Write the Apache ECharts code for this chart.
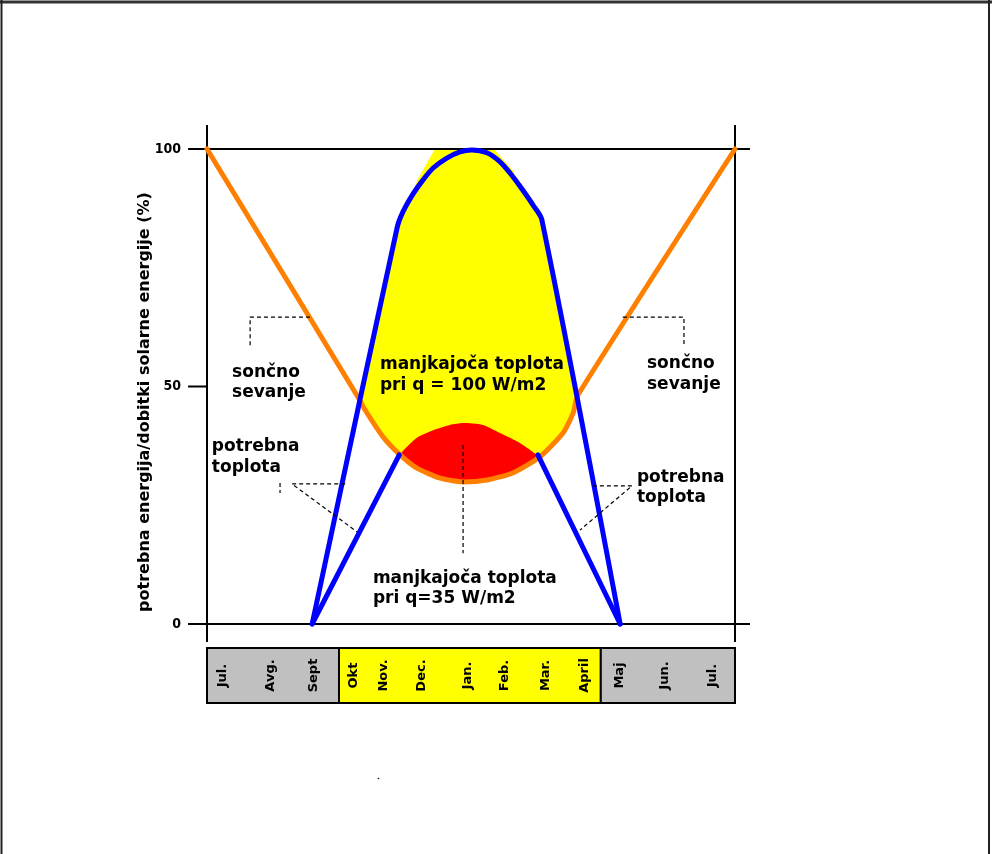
<!DOCTYPE html>
<html><head><meta charset="utf-8">
<script src="https://cdn.jsdelivr.net/npm/echarts@6/dist/echarts.min.js"></script>
<style>html,body{margin:0;padding:0;background:#fff}#c{width:992px;height:854px}</style>
</head><body><div id="c"></div>
<script>
// ---- data (x: months from July = 0 to next July = 12, y: %) ----
const yAxisTitle = 'potrebna energija/dobitki solarne energije (%)';
const months = ['Jul.', 'Avg.', 'Sept', 'Okt', 'Nov.', 'Dec.', 'Jan.', 'Feb.', 'Mar.', 'April', 'Maj', 'Jun.', 'Jul.'];
const monthPos = [0.36, 1.45, 2.42, 3.34, 4.01, 4.87, 5.93, 6.76, 7.70, 8.59, 9.38, 10.40, 11.50];
const seasonBounds = [0, 3.0, 8.95, 12];
const seasonHeating = [false, true, false];

const solarRadiation = [[0,100],[3.43,47.8],[3.59,45.1],[4.0,39.4],[4.39,35.6],[4.77,32.8],[5.30,30.7],[5.82,29.9],[6.36,30.3],[6.95,31.8],[7.57,35.2],[8.09,40.2],[8.32,44.4],[8.43,48.2],[12,100]];
const heatNeed100 = [[2.39,0],[4.32,83.4],[4.45,86.7],[4.68,90.5],[4.91,93.5],[5.14,96.0],[5.45,98.1],[5.75,99.4],[6.02,99.8],[6.36,99.2],[6.66,97.3],[6.89,94.9],[7.11,92.2],[7.41,88.2],[7.61,85.1],[9.39,0]];
const heatNeed35Left = [[2.39,0],[4.37,35.6]];
const heatNeed35Right = [[7.52,35.6],[9.39,0]];
const deficit100 = [[3.50,47.8],[3.59,45.1],[4.0,39.4],[4.39,35.6],[4.77,32.8],[5.30,30.7],[5.82,29.9],[6.36,30.3],[6.95,31.8],[7.57,35.2],[8.09,40.2],[8.32,44.4],[8.41,48.4],[7.61,85.1],[7.41,88.2],[7.11,92.2],[6.95,95.5],[6.52,100],[5.18,100],[4.78,93.5],[4.68,90.5],[4.45,86.7],[4.32,83.4]];
const deficit35 = [[4.39,35.8],[4.77,39.2],[5.14,40.8],[5.52,41.9],[5.82,42.3],[6.27,41.9],[6.66,40.2],[7.11,38.1],[7.50,35.6],[7.57,35.2],[6.95,31.8],[6.36,30.3],[5.82,29.9],[5.30,30.7],[4.77,32.8],[4.39,35.6]];

// ---- annotations ----
const leaders = [
  [[2.34,64.6],[0.98,64.6],[0.98,58.1]],
  [[9.45,64.6],[10.84,64.6],[10.84,58.5]],
  [[3.14,29.5],[1.93,29.5],[3.41,19.4]],
  [[1.66,29.7],[1.66,27.6]],
  [[8.77,29.1],[9.66,29.1],[8.48,19.8]],
  [[5.82,37.7],[5.82,14.9]]
];
const notes = [
  {text: 'manjkajoča toplota\npri q = 100 W/m2', at: [3.93, 52.3], lh: 21},
  {text: 'sončno\nsevanje', at: [0.57, 50.9], lh: 20},
  {text: 'sončno\nsevanje', at: [10.0, 52.6], lh: 21},
  {text: 'potrebna\ntoplota', at: [0.11, 35.2], lh: 21},
  {text: 'potrebna\ntoplota', at: [9.77, 28.8], lh: 20},
  {text: 'manjkajoča toplota\npri q=35 W/m2', at: [3.77, 7.4], lh: 20}
];
const frame = [
  [[-0.43,100],[12.34,100]],
  [[-0.43,0],[12.34,0]],
  [[0,105.05],[0,-3.8]],
  [[12,105.05],[12,-3.8]],
  [[-0.43,50],[0,50]]
];

const noteFont = 'bold 17px "DejaVu Sans"';

function polygonSeries(points, color, z, smooth) {
  return {
    type: 'custom', xAxisIndex: 0, yAxisIndex: 0, clip: false, z: z, silent: true,
    data: points,
    renderItem: function (params, api) {
      if (params.dataIndex !== 0) return null;
      return {type: 'polygon', shape: {points: points.map(p => api.coord(p)), smooth: smooth || 0}, style: {fill: color}};
    }
  };
}
function polylineSet(sets, style, z) {
  return {
    type: 'custom', xAxisIndex: 0, yAxisIndex: 0, clip: false, z: z, silent: true,
    data: sets.map((s, i) => [s[0][0], s[0][1], i]),
    renderItem: function (params, api) {
      const s = sets[api.value(2)];
      return {type: 'polyline', shape: {points: s.map(p => api.coord(p))}, style: Object.assign({fill: null}, style)};
    }
  };
}
function lineSeries(data, color, z, smooth) {
  return {type: 'line', data: data, symbol: 'none', clip: false, z: z, silent: true, smooth: smooth || false,
    lineStyle: {color: color, width: 5, cap: 'round', join: 'round'}};
}

const chart = echarts.init(document.getElementById('c'));
chart.setOption({
  animation: false,
  backgroundColor: '#fff',
  grid: [
    {left: 207, right: 257, top: 149, bottom: 230},
    {left: 207, right: 257, top: 648, height: 55}
  ],
  xAxis: [
    {gridIndex: 0, type: 'value', min: 0, max: 12, show: false},
    {gridIndex: 1, type: 'value', min: 0, max: 12, show: false}
  ],
  yAxis: [
    {gridIndex: 0, type: 'value', min: 0, max: 100, interval: 50,
      axisLine: {show: false}, axisTick: {show: false}, splitLine: {show: false},
      axisLabel: {margin: 26, color: '#000', fontFamily: '"Liberation Sans Narrow", "DejaVu Sans Condensed", sans-serif', fontWeight: 'bold', fontSize: 14}},
    {gridIndex: 1, type: 'value', min: 0, max: 1, show: false}
  ],
  graphic: [
    {type: 'line', shape: {x1: 0, y1: 2, x2: 992, y2: 2}, style: {stroke: '#333', lineWidth: 3}},
    {type: 'line', shape: {x1: 1.5, y1: 0, x2: 1.5, y2: 854}, style: {stroke: '#222', lineWidth: 2}},
    {type: 'line', shape: {x1: 989, y1: 0, x2: 989, y2: 854}, style: {stroke: '#222', lineWidth: 2}},
    {type: 'circle', shape: {cx: 378.5, cy: 778.5, r: 0.8}, style: {fill: '#000'}},
    {type: 'text', x: 145, y: 402, rotation: Math.PI / 2,
      style: {text: yAxisTitle, font: 'bold 16px "DejaVu Sans"', fill: '#000', align: 'center', verticalAlign: 'middle'}}
  ],
  series: [
    polygonSeries(deficit100, '#ffff00', 1),
    polygonSeries(deficit35, '#ff0000', 2, 0.25),
    polylineSet(frame, {stroke: '#000', lineWidth: 2}, 3),
    lineSeries(solarRadiation, '#ff8000', 4, 0.2),
    lineSeries(heatNeed100, '#0000ff', 5, 0.3),
    lineSeries(heatNeed35Left, '#0000ff', 5),
    lineSeries(heatNeed35Right, '#0000ff', 5),
    polylineSet(leaders, {stroke: '#000', lineWidth: 1.2, lineDash: [4, 3]}, 6),
    {
      type: 'custom', xAxisIndex: 0, yAxisIndex: 0, clip: false, z: 7, silent: true,
      data: notes.map((n, i) => [n.at[0], n.at[1], i]),
      renderItem: function (params, api) {
        const n = notes[api.value(2)];
        const c = api.coord([api.value(0), api.value(1)]);
        return {type: 'text', x: c[0], y: c[1],
          style: {text: n.text, font: noteFont, fill: '#000', align: 'left', verticalAlign: 'middle', lineHeight: n.lh}};
      }
    },
    {
      type: 'custom', xAxisIndex: 1, yAxisIndex: 1, clip: false, z: 1, silent: true,
      data: seasonHeating.map((h, i) => [seasonBounds[i], seasonBounds[i + 1], h ? 1 : 0]),
      renderItem: function (params, api) {
        const a = api.coord([api.value(0), 1]);
        const b = api.coord([api.value(1), 0]);
        return {type: 'rect', shape: {x: a[0], y: a[1], width: b[0] - a[0], height: b[1] - a[1]},
          style: {fill: api.value(2) ? '#ffff00' : '#c0c0c0', stroke: '#000', lineWidth: 2}};
      }
    },
    {
      type: 'custom', xAxisIndex: 1, yAxisIndex: 1, clip: false, z: 2, silent: true,
      data: monthPos.map((p, i) => [p, 0.5, i]),
      renderItem: function (params, api) {
        const c = api.coord([api.value(0), api.value(1)]);
        return {type: 'text', x: c[0], y: c[1], rotation: Math.PI / 2,
          style: {text: months[api.value(2)], font: 'bold 13px "DejaVu Sans"', fill: '#000', align: 'center', verticalAlign: 'middle'}};
      }
    }
  ]
});
</script>
</body></html>
